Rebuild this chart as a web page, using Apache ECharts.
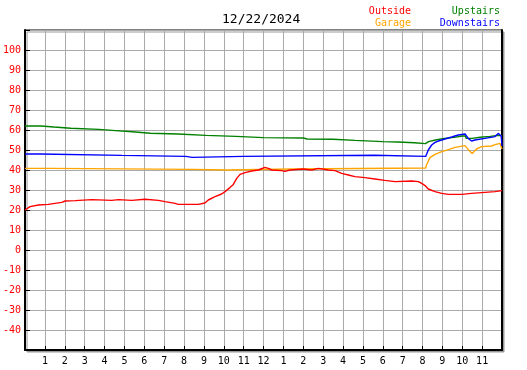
<!DOCTYPE html>
<html>
<head>
<meta charset="utf-8">
<script src="https://cdn.jsdelivr.net/npm/echarts@6/dist/echarts.min.js"></script>
<style>
    html, body {margin: 0; padding: 0; background: #fff;}
    #chart {width: 527px; height: 370px;}
</style>
</head>
<body>
<div id="chart"></div>
<script>
// 日期标题
var DATE_TEXT = '12/22/2024';

// 各曲线: [小时, 温度]
var outsideData = [
    [0, 20], [0.25, 21.7], [0.67, 22.5], [1.17, 22.8], [1.51, 23.3], [1.85, 23.8],
    [2.01, 24.5], [2.52, 24.7], [3.36, 25.2], [4.36, 24.8], [4.7, 25.2], [5.37, 24.8],
    [6.04, 25.4], [6.71, 24.8], [7.04, 24.2], [7.55, 23.3], [7.71, 22.8], [8.72, 22.8],
    [9.05, 23.5], [9.22, 25], [9.56, 26.7], [9.89, 28], [10.06, 29.2], [10.31, 31.2],
    [10.48, 32.8], [10.65, 35.8], [10.82, 37.8], [11.07, 38.7], [11.4, 39.5], [11.74, 40],
    [12.07, 41.3], [12.24, 40.8], [12.41, 40], [12.91, 39.7], [13.08, 39.3], [13.33, 40],
    [14.0, 40.5], [14.42, 40], [14.76, 40.8], [15.27, 40], [15.6, 39.7], [15.93, 38.3],
    [16.27, 37.5], [16.6, 36.7], [17.1, 36.2], [17.61, 35.5], [18.1, 34.8], [18.62, 34.2],
    [19.46, 34.5], [19.79, 34.2], [19.96, 33.3], [20.13, 32.2], [20.29, 30.5], [20.63, 29.2],
    [20.97, 28.3], [21.3, 27.8], [21.97, 27.8], [22.47, 28.3], [22.97, 28.7], [23.65, 29.2],
    [24, 29.7]
];
var garageData = [
    [0, 40.8], [1.34, 40.8], [1.4, 40.3], [8.45, 40.3], [8.5, 40], [10.15, 40],
    [10.2, 40.5], [13.5, 40.5], [13.55, 41], [20.16, 41], [20.2, 42.5], [20.37, 46.2],
    [20.63, 47.8], [20.97, 49.2], [21.3, 50.2], [21.64, 51.3], [22.14, 52.2], [22.22, 51.8],
    [22.39, 49.2], [22.5, 48.2], [22.72, 50.5], [22.97, 51.7], [23.48, 52], [23.65, 52.7],
    [23.9, 53.3], [23.98, 51], [24, 50.5]
];
var upstairsData = [
    [0, 62], [0.8, 62], [0.85, 61.5], [1.45, 61.5], [1.5, 60.9], [2.3, 60.9],
    [2.35, 60.4], [3.7, 60.3], [3.75, 59.7], [4.55, 59.7], [4.6, 59.1], [5.4, 59.1],
    [5.45, 58.4], [6.3, 58.4], [6.4, 58], [7.7, 58], [7.75, 57.4], [9.1, 57.3],
    [9.15, 56.8], [10.6, 56.8], [10.65, 56.3], [12.0, 56.2], [14.0, 56], [14.2, 55.5],
    [15.5, 55.4], [15.55, 54.9], [16.6, 54.8], [16.65, 54.4], [18.0, 54.2], [18.75, 54],
    [18.8, 53.6], [19.6, 53.6], [19.65, 53.2], [20.15, 53.2], [20.3, 54.2], [20.65, 55],
    [21.1, 55.8], [21.6, 56.3], [22.0, 57], [22.15, 57], [22.2, 55.8], [22.5, 55.8],
    [22.9, 56.4], [23.4, 56.8], [23.7, 57.2], [24, 57.2]
];
var downstairsData = [
    [0, 48], [0.75, 48], [0.8, 47.3], [4.87, 47.3], [4.9, 46.8], [8.1, 46.8],
    [8.15, 46.3], [8.4, 46.3], [8.45, 46.8], [11.0, 46.8], [11.05, 47.4], [17.6, 47.4],
    [17.65, 46.8], [20.16, 46.8], [20.29, 50], [20.46, 52.5], [20.63, 53.8], [20.8, 54.5],
    [21.13, 55.5], [21.47, 56.5], [21.8, 57.5], [22.14, 58], [22.22, 58.3], [22.3, 55.8],
    [22.47, 54.5], [22.64, 55], [23.14, 55.8], [23.65, 56.7], [23.81, 58.3], [23.9, 59.2],
    [23.96, 57], [24, 52]
];

var SERIES_NAMES = ['Outside', 'Garage', 'Upstairs', 'Downstairs'];
var SERIES_COLORS = ['#ff0000', '#ffa500', '#008000', '#0000ff'];

var MONO = '"DejaVu Sans Mono", monospace';

var chart = echarts.init(document.getElementById('chart'), null, {renderer: 'canvas'});

function lineSeries(idx, data, z) {
    return {
        name: SERIES_NAMES[idx],
        type: 'line',
        data: data,
        showSymbol: false,
        symbol: 'none',
        z: z,
        lineStyle: {color: SERIES_COLORS[idx], width: 1.4},
        itemStyle: {color: SERIES_COLORS[idx]},
        animation: false
    };
}

function legendTitle(idx, right, top) {
    return {
        text: SERIES_NAMES[idx],
        right: right,
        top: top,
        padding: 0,
        textStyle: {
            color: SERIES_COLORS[idx],
            fontFamily: MONO,
            fontSize: 10,
            fontWeight: 'normal',
            lineHeight: 10
        }
    };
}

var option = {
    animation: false,
    title: [
        {
            text: DATE_TEXT,
            left: 222,
            top: 13,
            padding: 0,
            textStyle: {color: '#000', fontFamily: MONO, fontSize: 13, fontWeight: 'normal', lineHeight: 13}
        },
        legendTitle(0, 116, 6),
        legendTitle(1, 116, 18),
        legendTitle(2, 27, 6),
        legendTitle(3, 27, 18)
    ],
    grid: {
        left: 25,
        right: 25,
        top: 30,
        bottom: 20,
        show: true,
        backgroundColor: '#fff',
        borderColor: '#000',
        borderWidth: 1,
        shadowColor: '#999',
        shadowBlur: 0,
        shadowOffsetX: 2,
        shadowOffsetY: 2
    },
    xAxis: {
        type: 'value',
        min: 0,
        max: 24,
        interval: 1,
        axisLine: {show: true, onZero: false, lineStyle: {color: '#000', width: 2}},
        axisTick: {show: true, inside: true, length: 4, lineStyle: {color: '#000'}},
        axisLabel: {
            color: '#000',
            fontFamily: MONO,
            fontSize: 10,
            margin: 6,
            formatter: function (v) {
                if (v <= 0 || v >= 24) {
                    return '';
                }
                return String(v > 12 ? v - 12 : v);
            }
        },
        splitLine: {show: true, lineStyle: {color: '#aaa', width: 1}}
    },
    yAxis: [
        {
            type: 'value',
            min: -50,
            max: 110,
            interval: 10,
            axisLine: {show: true, lineStyle: {color: '#000', width: 2}},
            axisTick: {show: true, inside: true, length: 5, lineStyle: {color: '#000'}},
            axisLabel: {
                color: '#ff0000',
                fontFamily: MONO,
                fontSize: 10,
                margin: 4,
                formatter: function (v) {
                    if (v <= -50 || v >= 110) {
                        return '';
                    }
                    return String(v);
                }
            },
            splitLine: {show: true, lineStyle: {color: '#aaa', width: 1}}
        },
        {
            type: 'value',
            position: 'right',
            min: -50,
            max: 110,
            interval: 10,
            axisLine: {show: true, lineStyle: {color: '#000', width: 2}},
            axisTick: {show: false},
            axisLabel: {show: false},
            splitLine: {show: false}
        }
    ],
    series: [
        lineSeries(1, garageData, 2),
        lineSeries(0, outsideData, 3),
        lineSeries(2, upstairsData, 4),
        lineSeries(3, downstairsData, 5)
    ]
};

chart.setOption(option);
</script>
</body>
</html>
